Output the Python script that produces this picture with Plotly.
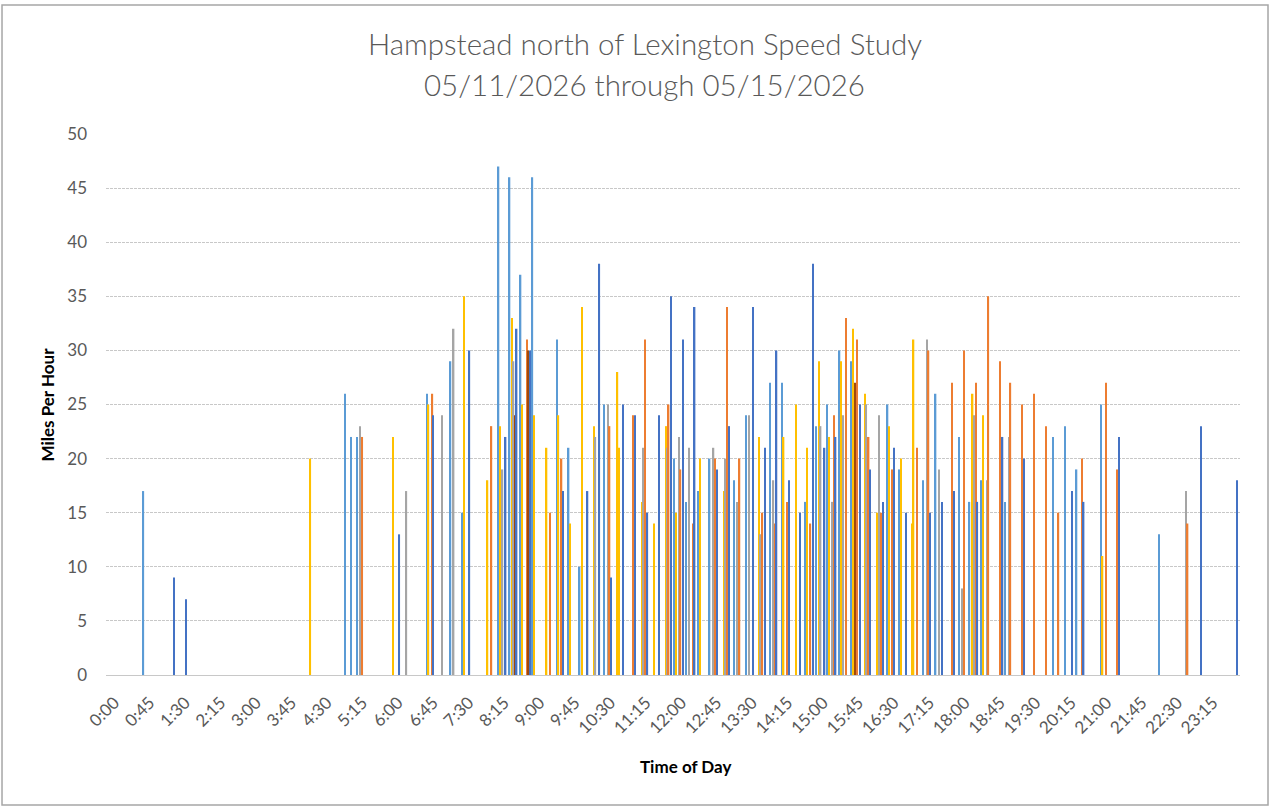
import plotly.graph_objects as go
import pandas as pd

# speed readings (time of day, mph), grouped by bar colour as drawn in the source chart
lb_times = ["0:47", "5:03", "5:11", "5:18", "6:47", "7:17", "7:32", "8:18", "8:32", "8:46",
            "9:01", "9:32", "9:47", "10:01", "10:32", "12:01", "12:16", "12:31", "12:46", "13:17",
            "13:32", "14:03", "14:18", "14:48", "15:01", "15:15", "15:31", "15:46", "16:32", "16:47",
            "17:17", "17:33", "18:03", "18:16", "18:31", "19:01", "20:02", "20:17", "20:32", "21:03",
            "22:17"]
lb_mph = [17, 26, 22, 22, 26, 29, 15, 47, 46, 37,
          46, 31, 21, 10, 25, 20, 16, 17, 20, 18,
          24, 27, 27, 16, 23, 25, 30, 29, 25, 19,
          18, 26, 22, 16, 18, 16, 22, 23, 19, 25,
          13]

ye_times = ["4:19", "6:04", "6:49", "7:34", "8:04", "8:20", "8:35", "8:48", "9:03", "9:19",
            "9:34", "9:49", "10:04", "10:19", "10:49", "10:51", "11:20", "11:35", "11:51", "12:03",
            "12:34", "13:04", "13:49", "14:20", "14:36", "14:50", "15:05", "15:18", "15:33", "15:48",
            "16:03", "16:19", "16:34", "16:49", "17:03", "17:05", "18:20", "18:33", "21:05"]
ye_mph = [20, 22, 25, 35, 18, 23, 33, 25, 24, 21,
          24, 14, 34, 23, 28, 21, 16, 14, 23, 15,
          20, 17, 22, 22, 25, 21, 29, 22, 29, 32,
          26, 15, 23, 20, 14, 31, 26, 24, 11]

gr_times = ["5:22", "6:21", "7:06", "7:21", "8:23", "8:37", "10:21", "10:37", "11:22", "11:52",
            "12:07", "12:20", "12:51", "13:06", "13:21", "13:36", "13:50", "14:07", "15:07", "15:22",
            "15:35", "16:05", "16:21", "17:22", "17:37", "18:07", "18:22", "18:38", "19:06", "22:51"]
gr_mph = [23, 17, 24, 32, 19, 29, 22, 25, 21, 21,
          22, 21, 21, 20, 16, 24, 13, 18, 23, 16,
          24, 25, 24, 31, 19, 8, 24, 18, 22, 17]

or_times = ["5:25", "6:54", "8:09", "8:54", "9:23", "9:38", "10:39", "11:09", "11:24", "11:54",
            "12:09", "12:25", "12:53", "13:08", "13:24", "13:53", "14:09", "14:24", "14:54", "15:24",
            "15:39", "15:53", "16:08", "16:24", "16:38", "17:09", "17:24", "17:54", "18:09", "18:24",
            "18:40", "18:55", "19:08", "19:23", "19:38", "19:53", "20:09", "20:39", "21:09", "21:24",
            "22:53"]
or_mph = [22, 26, 23, 31, 15, 20, 23, 24, 31, 25,
          19, 14, 20, 34, 20, 15, 14, 16, 14, 24,
          33, 31, 22, 15, 19, 21, 30, 27, 30, 27,
          35, 29, 27, 25, 26, 23, 15, 20, 27, 19,
          14]

br_times = ["8:39", "8:55", "15:51"]
br_mph = [24, 30, 27]

db_times = ["1:26", "1:41", "6:12", "6:55", "7:41", "8:27", "8:41", "8:58", "9:40", "10:11",
            "10:26", "10:41", "10:56", "11:11", "11:27", "11:42", "11:57", "12:12", "12:27", "12:55",
            "13:11", "13:41", "13:56", "14:11", "14:27", "14:41", "14:57", "15:12", "15:26", "15:57",
            "16:10", "16:26", "16:40", "16:55", "17:26", "17:41", "17:56", "18:26", "18:58", "19:25",
            "20:26", "20:41", "21:26", "23:10", "23:56"]
db_mph = [9, 7, 13, 24, 30, 22, 32, 30, 17, 17,
          38, 9, 25, 24, 15, 24, 35, 31, 34, 19,
          23, 34, 21, 30, 18, 15, 38, 21, 22, 25,
          19, 16, 21, 15, 15, 16, 17, 16, 22, 20,
          17, 16, 22, 23, 18]

study_day = "2026-05-11"
title_lines = ["Hampstead north of Lexington Speed Study", "05/11/2026 through 05/15/2026"]

series = [
    ("Set 1", lb_times, lb_mph, "#5B9BD5"),
    ("Set 2", ye_times, ye_mph, "#FFC000"),
    ("Set 3", gr_times, gr_mph, "#A5A5A5"),
    ("Set 4", or_times, or_mph, "#ED7D31"),
    ("Set 5", br_times, br_mph, "#9E480E"),
    ("Set 6", db_times, db_mph, "#4472C4"),
]

fig = go.Figure()
for name, times, mph, color in series:
    fig.add_trace(go.Bar(
        x=pd.to_datetime([f"{study_day} {t}" for t in times]),
        y=mph,
        name=name,
        width=1.8 * 60 * 1000,
        marker=dict(color=color, line=dict(width=0)),
    ))

day_start = pd.Timestamp(study_day)
grid = "#C8C8C8"
tick_font = dict(family="Lato", size=17, color="#595959")

fig.update_layout(
    width=1275, height=808,
    barmode="overlay",
    showlegend=False,
    plot_bgcolor="white", paper_bgcolor="white",
    margin=dict(l=106, r=35, t=134, b=133),
    xaxis=dict(
        type="date",
        range=[day_start - pd.Timedelta(seconds=30), day_start + pd.Timedelta(hours=23, minutes=59, seconds=30)],
        tick0=day_start, dtick=45 * 60 * 1000,
        tickformat="%-H:%M", tickangle=-45,
        tickfont=tick_font,
        ticklabelshift=8, ticklabelstandoff=10,
        showgrid=False, showline=True, linecolor=grid, linewidth=1,
        ticks="", zeroline=False,
    ),
    yaxis=dict(
        range=[0, 50], dtick=5,
        tickfont=tick_font,
        showgrid=True, gridcolor=grid, griddash="3px,1px", gridwidth=1,
        zeroline=False, showline=False, ticks="",
        ticklabelstandoff=18,
    ),
)

for text, ypos in zip(title_lines, [1.167, 1.091]):
    fig.add_annotation(text=text, xref="paper", yref="paper", x=0.475, y=ypos,
                       xanchor="center", yanchor="middle", showarrow=False,
                       font=dict(family="Lato", size=29.5, color="#595959", weight=300))

fig.add_annotation(text="<b>Miles Per Hour</b>", xref="paper", yref="paper",
                   x=-0.052, y=0.5, textangle=-90, showarrow=False,
                   xanchor="center", yanchor="middle",
                   font=dict(family="Lato", size=17, color="#000000"))
fig.add_annotation(text="<b>Time of Day</b>", xref="paper", yref="paper",
                   x=0.5106, y=-0.17, showarrow=False,
                   xanchor="center", yanchor="middle",
                   font=dict(family="Lato", size=17, color="#000000"))

# chart area border
fig.add_shape(type="rect", xref="paper", yref="paper",
              x0=-0.0917, x1=1.0247, y0=-0.2403, y1=1.2384,
              line=dict(color="#A6A6A6", width=1.5), fillcolor="rgba(0,0,0,0)", layer="below")

# the page body has a default 8px margin; drop it so the figure sits at the window origin
fig.write_html("out.html", config={"displayModeBar": False},
               post_script="document.body.style.margin='0px';")
